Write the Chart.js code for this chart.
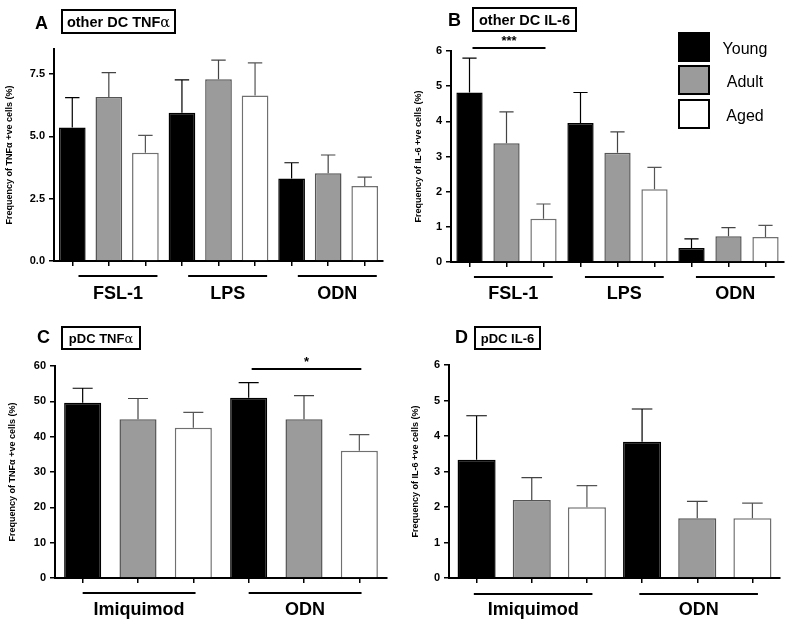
<!DOCTYPE html>
<html>
<head>
<meta charset="utf-8">
<script src="https://cdn.jsdelivr.net/npm/chart.js@4.4.1/dist/chart.umd.min.js"></script>
<style>
body{margin:0;background:#fff;width:787px;height:622px;position:relative;overflow:hidden;font-family:"Liberation Sans",Arial,sans-serif}
canvas{position:absolute}
.lt{position:absolute;font-weight:bold;font-size:18px;line-height:18px}
.box{position:absolute;border:2px solid #000;box-sizing:border-box;font-weight:bold;display:flex;align-items:center;justify-content:center;white-space:nowrap}
.al{font-family:"DejaVu Serif",serif;font-weight:normal}
.lg{position:absolute;left:678px;width:32px;height:30px;box-sizing:border-box;border:2px solid #000}
.lgt{position:absolute;left:715px;width:60px;text-align:center;font-size:16px;line-height:16px}
</style>
</head>
<body>
<canvas id="cA" width="400" height="310" style="left:0;top:0"></canvas>
<canvas id="cB" width="382" height="310" style="left:405px;top:0"></canvas>
<canvas id="cC" width="400" height="312" style="left:0;top:310px"></canvas>
<canvas id="cD" width="382" height="312" style="left:405px;top:310px"></canvas>

<div class="lt" style="left:35px;top:14px">A</div>
<div class="box" style="left:61px;top:9px;width:115px;height:25px;font-size:14.5px">other DC TNF<span class="al">α</span></div>
<div class="lt" style="left:448px;top:11px">B</div>
<div class="box" style="left:472px;top:7px;width:105px;height:25px;font-size:14.5px">other DC IL-6</div>
<div class="lt" style="left:37px;top:328px">C</div>
<div class="box" style="left:61px;top:326px;width:80px;height:24px;font-size:13px">pDC TNF<span class="al">α</span></div>
<div class="lt" style="left:455px;top:328px">D</div>
<div class="box" style="left:474px;top:326px;width:67px;height:24px;font-size:13px">pDC IL-6</div>

<div class="lg" style="top:32px;background:#000"></div>
<div class="lg" style="top:65px;background:#9b9b9b"></div>
<div class="lg" style="top:99px;background:#fff"></div>
<div class="lgt" style="top:41px">Young</div>
<div class="lgt" style="top:74px">Adult</div>
<div class="lgt" style="top:108px">Aged</div>

<script>
const otherGroups = ["FSL-1", "LPS", "ODN"];
const pdcGroups = ["Imiquimod", "ODN"];
const ageGroups = ["Young", "Adult", "Aged"];

// means and upward error (SEM), order: group x age
const otherTnfMean = [5.35, 6.58, 4.34, 5.94, 7.29, 6.64, 3.31, 3.52, 3.01];
const otherTnfErr = [1.20, 0.97, 0.70, 1.32, 0.76, 1.30, 0.63, 0.73, 0.35];
const otherIl6Mean = [4.82, 3.38, 1.23, 3.95, 3.11, 2.07, 0.40, 0.73, 0.71];
const otherIl6Err = [0.98, 0.89, 0.42, 0.87, 0.59, 0.62, 0.26, 0.25, 0.33];
const pdcTnfMean = [49.6, 44.9, 42.5, 51.0, 44.9, 36.0];
const pdcTnfErr = [4.1, 5.9, 4.4, 4.3, 6.7, 4.6];
const pdcIl6Mean = [3.33, 2.20, 1.99, 3.84, 1.68, 1.68];
const pdcIl6Err = [1.24, 0.63, 0.61, 0.92, 0.48, 0.43];

const ticksA = [0, 2.5, 5, 7.5];
const ticksB = [0, 1, 2, 3, 4, 5, 6];
const ticksC = [0, 10, 20, 30, 40, 50, 60];
const ticksD = [0, 1, 2, 3, 4, 5, 6];

const fills = ["#000000", "#9b9b9b", "#ffffff"];
const edges = ["#000000", "#555555", "#707070"];
const errColors = ["#000000", "#444444", "#555555"];

Chart.defaults.font.family = '"Liberation Sans", Arial, sans-serif';

function labelsFor(groups) {
    const out = [];
    groups.forEach(g => ageGroups.forEach(a => out.push(g + " " + a)));
    return out;
}

// error bars, group underlines and significance marks
const extras = {
    id: "extras",
    afterDatasetsDraw(chart, args, o) {
        const ctx = chart.ctx;
        const x = chart.scales.x;
        const y = chart.scales.y;
        const vals = chart.data.datasets[0].data;
        ctx.save();
        chart.getDatasetMeta(0).data.forEach((bar, i) => {
            const top = y.getPixelForValue(vals[i] + o.err[i]);
            const half = bar.width * 0.27;
            ctx.strokeStyle = errColors[i % 3];
            ctx.lineWidth = 1.2;
            ctx.beginPath();
            ctx.moveTo(bar.x, bar.y);
            ctx.lineTo(bar.x, top);
            ctx.moveTo(bar.x - half, top);
            ctx.lineTo(bar.x + half, top);
            ctx.stroke();
        });

        const step = x.getPixelForValue(1) - x.getPixelForValue(0);
        ctx.strokeStyle = "#000";
        ctx.fillStyle = "#000";
        ctx.textAlign = "center";
        ctx.textBaseline = "middle";
        o.groups.forEach((g, k) => {
            const a = x.getPixelForValue(k * 3) + o.lineStart * step;
            const b = x.getPixelForValue(k * 3 + 2) + o.lineEnd * step;
            ctx.lineWidth = 2;
            ctx.beginPath();
            ctx.moveTo(a, o.lineY);
            ctx.lineTo(b, o.lineY);
            ctx.stroke();
            ctx.font = 'bold 18px "Liberation Sans", Arial';
            ctx.fillText(g, (a + b) / 2, o.labelY);
        });

        if (o.sig) {
            const a = x.getPixelForValue(o.sig.from) + 3;
            const b = x.getPixelForValue(o.sig.to) + 2;
            ctx.lineWidth = 2;
            ctx.beginPath();
            ctx.moveTo(a, o.sig.y);
            ctx.lineTo(b, o.sig.y);
            ctx.stroke();
            ctx.font = 'bold 13px "Liberation Sans", Arial';
            ctx.fillText(o.sig.text, (a + b) / 2, o.sig.y - 7);
        }
        ctx.restore();
    }
};

function makePanel(id, p) {
    return new Chart(document.getElementById(id), {
        type: "bar",
        data: {
            labels: labelsFor(p.groups),
            datasets: [{
                data: p.mean,
                backgroundColor: p.mean.map((v, i) => fills[i % 3]),
                borderColor: p.mean.map((v, i) => edges[i % 3]),
                borderWidth: 1.5,
                barPercentage: p.barPct,
                categoryPercentage: 1
            }]
        },
        plugins: [extras],
        options: {
            responsive: false,
            animation: false,
            layout: { padding: { left: 0, right: p.padRight, top: p.padTop, bottom: 0 } },
            plugins: {
                legend: { display: false },
                tooltip: { enabled: false },
                extras: {
                    err: p.err,
                    groups: p.groups,
                    lineStart: p.lineStart,
                    lineEnd: p.lineEnd,
                    lineY: p.lineY,
                    labelY: p.labelY,
                    sig: p.sig
                }
            },
            scales: {
                x: {
                    offset: true,
                    afterFit: s => { s.height = p.xHeight; },
                    border: { color: "#000", width: 2 },
                    grid: { offset: false, drawOnChartArea: false, drawTicks: true, tickLength: 5, color: "#000", lineWidth: 1.5 },
                    ticks: { display: false }
                },
                y: {
                    min: 0,
                    max: p.yMax,
                    afterBuildTicks: s => { s.ticks = p.ticks.map(v => ({ value: v })); },
                    afterFit: s => { s.width = p.yWidth; },
                    border: { color: "#000", width: 2 },
                    grid: { drawOnChartArea: false, drawTicks: true, tickLength: 5, color: "#000", lineWidth: 1.5 },
                    ticks: {
                        color: "#000",
                        padding: 4,
                        font: { size: 11, weight: "bold" },
                        callback: v => p.fmt ? p.fmt(v) : v
                    },
                    title: {
                        display: true,
                        text: p.yTitle,
                        color: "#000",
                        font: { size: 9, weight: "bold" },
                        padding: { top: p.titlePad, bottom: 0 }
                    }
                }
            }
        }
    });
}

makePanel("cA", {
    groups: otherGroups, mean: otherTnfMean, err: otherTnfErr,
    ticks: ticksA, yMax: 8.5, fmt: v => v.toFixed(1),
    yTitle: "Frequency of TNFα +ve cells (%)",
    yWidth: 54, padRight: 17, padTop: 49, xHeight: 49, titlePad: 4.5,
    barPct: 0.73, lineStart: 0.17, lineEnd: 0.33, lineY: 276, labelY: 294
});

makePanel("cB", {
    groups: otherGroups, mean: otherIl6Mean, err: otherIl6Err,
    ticks: ticksB, yMax: 6,
    yTitle: "Frequency of IL-6 +ve cells (%)",
    yWidth: 46, padRight: 3, padTop: 51, xHeight: 48, titlePad: 8.5,
    barPct: 0.71, lineStart: 0.12, lineEnd: 0.25, lineY: 277, labelY: 294,
    sig: { from: 0, to: 2, y: 48, text: "***" }
});

makePanel("cC", {
    groups: pdcGroups, mean: pdcTnfMean, err: pdcTnfErr,
    ticks: ticksC, yMax: 60,
    yTitle: "Frequency of TNFα +ve cells (%)",
    yWidth: 55, padRight: 13, padTop: 56, xHeight: 44, titlePad: 7,
    barPct: 0.67, lineStart: 0, lineEnd: 0.04, lineY: 283, labelY: 300,
    sig: { from: 3, to: 5, y: 59, text: "*" }
});

makePanel("cD", {
    groups: pdcGroups, mean: pdcIl6Mean, err: pdcIl6Err,
    ticks: ticksD, yMax: 6,
    yTitle: "Frequency of IL-6 +ve cells (%)",
    yWidth: 44, padRight: 7, padTop: 55, xHeight: 44, titlePad: 5.5,
    barPct: 0.69, lineStart: -0.05, lineEnd: 0.1, lineY: 284, labelY: 300
});
</script>
</body>
</html>
